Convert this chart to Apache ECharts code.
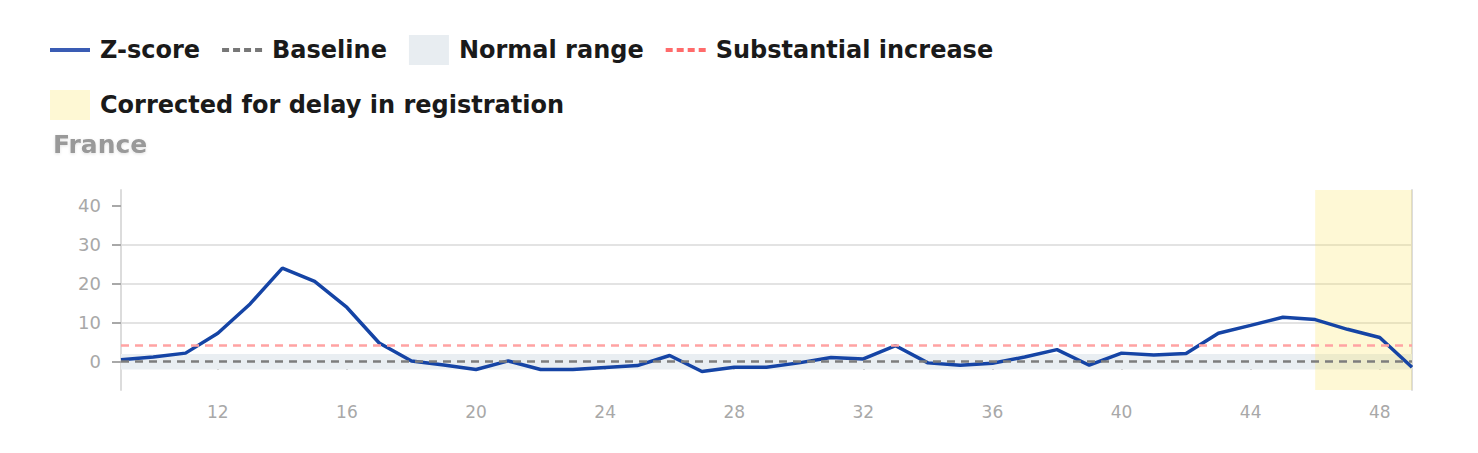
<!DOCTYPE html>
<html>
<head>
<meta charset="utf-8">
<script src="https://cdn.jsdelivr.net/npm/echarts@6/dist/echarts.min.js"></script>
<style>
  html, body { margin: 0; padding: 0; background: #fff; }
  #chart { width: 1478px; height: 453px; }
</style>
</head>
<body>
<div id="chart"></div>
<script>
// ---- data ----
const weeks = [9,10,11,12,13,14,15,16,17,18,19,20,21,22,23,24,25,26,27,28,29,30,31,32,33,34,35,36,37,38,39,40,41,42,43,44,45,46,47,48,49];
const zscore = [0.5,1.2,2.2,7.3,14.8,24.0,20.6,13.9,4.8,0.2,-0.85,-2.0,0.2,-2.0,-2.0,-1.5,-1.0,1.6,-2.5,-1.4,-1.4,-0.3,1.1,0.7,4.1,-0.3,-0.9,-0.4,1.2,3.1,-0.9,2.2,1.7,2.1,7.3,9.3,11.4,10.8,8.3,6.2,-1.4];
const baselineValue = 0;
const normalRange = [-2, 2];
const substantialIncrease = 4.1;
const correctedWeeks = [46, 49];
const xTicks = [12,16,20,24,28,32,36,40,44,48];
const yTicks = [0,10,20,30,40];
const xRange = [9, 49];
const yRange = [-7.25, 44];
const countryName = 'France';

const FONT = 'DejaVu Sans';
const chart = echarts.init(document.getElementById('chart'), null, { renderer: 'svg' });

const legendText = { fontFamily: FONT, fontWeight: 'bold', fontSize: 24, color: '#1a1a1a', padding: [0, 0, 0, 5] };
const solidIcon = 'path://M0 0h40v4H0z';
const dashIcon = 'path://M0 0h7v4H0zM11 0h7v4h-7zM22 0h7v4h-7zM33 0h7v4h-7z';

chart.setOption({
  animation: false,
  title: {
    text: countryName,
    left: 48, top: 127,
    textStyle: {
      fontFamily: FONT, fontWeight: 'bold', fontSize: 25, color: '#999999',
      textShadowColor: 'rgba(0,0,0,0.12)', textShadowBlur: 3, textShadowOffsetY: 1
    }
  },
  legend: [{
    left: 45, top: 30, width: 1300,
    itemWidth: 40, itemHeight: 30, itemGap: 22,
    textStyle: legendText,
    selectedMode: false,
    data: [
      { name: 'Z-score', icon: solidIcon, itemStyle: { color: '#3a5cb4' } },
      { name: 'Baseline', icon: dashIcon, itemStyle: { color: '#777777' } },
      { name: 'Normal range', icon: 'rect', itemStyle: { color: '#e8edf1' } },
      { name: 'Substantial increase', icon: dashIcon, itemStyle: { color: '#ff6b6b' } }
    ]
  }, {
    left: 45, top: 85, width: 1300,
    itemWidth: 40, itemHeight: 30, itemGap: 22,
    textStyle: legendText,
    selectedMode: false,
    data: [{ name: 'Corrected for delay in registration', icon: 'rect', itemStyle: { color: '#fef8d4' } }]
  }],
  grid: { left: 121, right: 66, top: 190, bottom: 63, containLabel: false },
  xAxis: {
    type: 'value', min: xRange[0], max: xRange[1], splitNumber: 10,
    axisLine: { show: true, lineStyle: { color: '#dcdcdc', width: 2 } },
    axisTick: { show: true, length: 8, customValues: xTicks, lineStyle: { color: '#a8a8a8', width: 2 } },
    axisLabel: { customValues: xTicks, color: '#a8a8a8', fontFamily: FONT, fontSize: 17, margin: 13 },
    splitLine: { show: false }
  },
  yAxis: [{
    type: 'value', min: yRange[0], max: yRange[1], splitNumber: 5,
    axisLine: { show: true, lineStyle: { color: '#dcdcdc', width: 2 } },
    axisTick: { show: true, length: 9, customValues: yTicks, lineStyle: { color: '#a8a8a8', width: 2 } },
    axisLabel: { customValues: yTicks, color: '#a8a8a8', fontFamily: FONT, fontSize: 18, margin: 20 },
    splitLine: { show: true, showMinLine: false, showMaxLine: false, lineStyle: { color: '#dadada', width: 1.5 } }
  }, {
    type: 'value', position: 'right', min: yRange[0], max: yRange[1],
    axisLine: { show: true, lineStyle: { color: '#dcdcdc', width: 2 } },
    axisTick: { show: false }, axisLabel: { show: false }, splitLine: { show: false }
  }],
  series: [
    {
      name: 'Normal range', type: 'line', data: [], symbol: 'none', z: 1,
      itemStyle: { color: '#e8edf1' },
      markArea: { silent: true, itemStyle: { color: '#e9eef2' },
        data: [[{ yAxis: normalRange[0] }, { yAxis: normalRange[1] }]] }
    },
    {
      name: 'Baseline', type: 'line', data: [], symbol: 'none', z: 2,
      itemStyle: { color: '#777' },
      markLine: { silent: true, symbol: 'none', label: { show: false },
        lineStyle: { color: '#7d7d7d', width: 2.5, type: [8, 6] },
        data: [{ yAxis: baselineValue }] }
    },
    {
      name: 'Substantial increase', type: 'line', data: [], symbol: 'none', z: 2,
      itemStyle: { color: '#ff6b6b' },
      markLine: { silent: true, symbol: 'none', label: { show: false },
        lineStyle: { color: '#ffa3a3', width: 2.5, type: [8, 6] },
        data: [{ yAxis: substantialIncrease }] }
    },
    {
      name: 'Z-score', type: 'line', symbol: 'none', z: 3,
      itemStyle: { color: '#1544a5' },
      lineStyle: { color: '#1544a5', width: 3.5 },
      data: weeks.map((w, i) => [w, zscore[i]])
    },
    {
      name: 'Corrected for delay in registration', type: 'line', data: [], symbol: 'none', z: 10,
      itemStyle: { color: '#fef8d4' },
      markArea: { silent: true, itemStyle: { color: 'rgba(250,226,86,0.25)' },
        data: [[{ xAxis: correctedWeeks[0] }, { xAxis: correctedWeeks[1] }]] }
    }
  ]
});
</script>
</body>
</html>
